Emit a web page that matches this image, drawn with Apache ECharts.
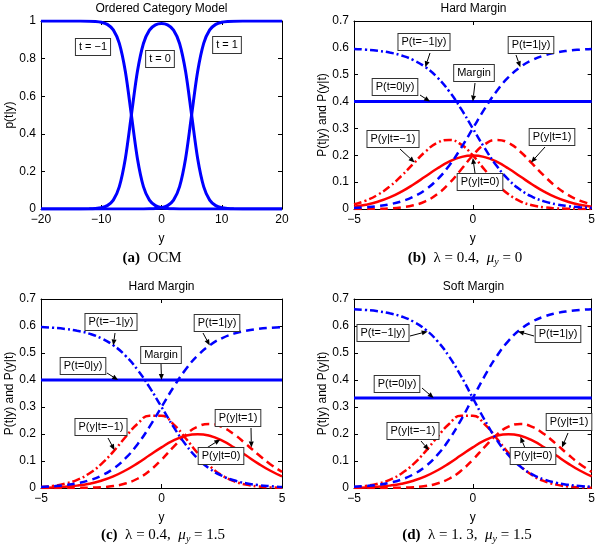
<!DOCTYPE html>
<html><head><meta charset="utf-8">
<script src="https://cdn.jsdelivr.net/npm/echarts@6/dist/echarts.min.js"></script>
<style>html,body{margin:0;padding:0;background:#fff}#c{width:598px;height:545px}</style>
</head><body><div id="c"></div>
<script>
// ---------- DATA ----------
// Panel (a): Ordered Category Model
const ocmY = [-20,-15,-12,-11,-10,-9,-8,-7,-6,-5,-4,-3,-2,-1,0,1,2,3,4,5,6,7,8,9,10,11,12,15,20];
const ocmTminus1 = [1,1,0.999,0.9975,0.9933,0.982,0.9526,0.8808,0.7311,0.5,0.2689,0.1192,0.0474,0.018,0.0067,0.0025,0.0009,0.0003,0.0001,0,0,0,0,0,0,0,0,0,0];
const ocmT0 = [0,0,0.001,0.0025,0.0067,0.018,0.0474,0.1192,0.2689,0.5,0.731,0.8805,0.9517,0.9795,0.9866,0.9795,0.9517,0.8805,0.731,0.5,0.2689,0.1192,0.0474,0.018,0.0067,0.0025,0.001,0,0];
const ocmT1 = [0,0,0,0,0,0,0,0,0,0,0.0001,0.0003,0.0009,0.0025,0.0067,0.018,0.0474,0.1192,0.2689,0.5,0.7311,0.8808,0.9526,0.982,0.9933,0.9975,0.999,1,1];

// Panels (b)-(d): common y grid
const yGrid = [-5,-4.5,-4,-3.5,-3,-2.5,-2,-1.5,-1,-0.5,0,0.5,1,1.5,2,2.5,3,3.5,4,4.5,5];
const yEnds = [-5,5];

// Panel (b): Hard margin, lambda=0.4, mu_y=0
const bTminus1 = [0.596,0.5934,0.5892,0.5824,0.5716,0.5545,0.5285,0.4906,0.4387,0.3735,0.3,0.2265,0.1613,0.1094,0.0715,0.0455,0.0285,0.0176,0.0108,0.0066,0.004];
const bT1 = [0.004,0.0066,0.0108,0.0176,0.0285,0.0455,0.0715,0.1094,0.1613,0.2265,0.3,0.3735,0.4387,0.4906,0.5285,0.5545,0.5716,0.5824,0.5892,0.5934,0.596];
const bT0 = [0.4,0.4];
const bYt0 = [0.0088,0.0159,0.027,0.0431,0.0648,0.0913,0.121,0.1506,0.176,0.1933,0.1995,0.1933,0.176,0.1506,0.121,0.0913,0.0648,0.0431,0.027,0.0159,0.0088];
const bYtminus1 = [0.0174,0.0314,0.053,0.0837,0.1235,0.1687,0.2132,0.2463,0.2573,0.2407,0.1995,0.1459,0.0947,0.0549,0.0288,0.0139,0.0062,0.0025,0.001,0.0004,0.0001];
const bYt1 = [0.0001,0.0004,0.001,0.0025,0.0062,0.0139,0.0288,0.0549,0.0947,0.1459,0.1995,0.2407,0.2573,0.2463,0.2132,0.1687,0.1235,0.0837,0.053,0.0314,0.0174];

// Panel (c): Hard margin, lambda=0.4, mu_y=1.5
const cTminus1 = [0.596,0.5934,0.5892,0.5824,0.5716,0.5545,0.5285,0.4906,0.4387,0.3735,0.3,0.2265,0.1613,0.1094,0.0715,0.0455,0.0285,0.0176,0.0108,0.0066,0.004];
const cT1 = [0.004,0.0066,0.0108,0.0176,0.0285,0.0455,0.0715,0.1094,0.1613,0.2265,0.3,0.3735,0.4387,0.4906,0.5285,0.5545,0.5716,0.5824,0.5892,0.5934,0.596];
const cT0 = [0.4,0.4];
const cYt0 = [0.001,0.0022,0.0046,0.0088,0.0159,0.027,0.0431,0.0648,0.0913,0.121,0.1506,0.176,0.1933,0.1995,0.1933,0.176,0.1506,0.121,0.0913,0.0648,0.0431];
const cYtminus1 = [0.0036,0.0078,0.0159,0.0302,0.0538,0.0886,0.1348,0.1881,0.237,0.2674,0.2673,0.2359,0.1845,0.1292,0.0818,0.0474,0.0254,0.0126,0.0058,0.0025,0.001];
const cYt1 = [0,0,0.0001,0.0004,0.0011,0.0029,0.0072,0.0165,0.0342,0.0636,0.1048,0.1525,0.1967,0.2271,0.237,0.2264,0.1997,0.1635,0.1248,0.0892,0.0596];

// Panel (d): Soft margin, lambda=1.3, mu_y=1.5
const dTminus1 = [0.6622,0.6593,0.6547,0.6471,0.6351,0.6161,0.5872,0.5451,0.4874,0.415,0.3333,0.2517,0.1793,0.1216,0.0795,0.0506,0.0316,0.0195,0.012,0.0073,0.0045];
const dT1 = [0.0045,0.0073,0.012,0.0195,0.0316,0.0506,0.0795,0.1216,0.1793,0.2517,0.3333,0.415,0.4874,0.5451,0.5872,0.6161,0.6351,0.6471,0.6547,0.6593,0.6622];
const dT0 = [0.333,0.333];
const dYt0 = [0.001,0.0022,0.0046,0.0088,0.0159,0.027,0.0431,0.0648,0.0913,0.121,0.1506,0.176,0.1933,0.1995,0.1933,0.176,0.1506,0.121,0.0913,0.0648,0.0431];
const dYtminus1 = [0.0036,0.0078,0.0159,0.0302,0.0538,0.0886,0.1348,0.1881,0.237,0.2674,0.2673,0.2359,0.1845,0.1292,0.0818,0.0474,0.0254,0.0126,0.0058,0.0025,0.001];
const dYt1 = [0,0,0.0001,0.0004,0.0011,0.0029,0.0072,0.0165,0.0342,0.0636,0.1048,0.1525,0.1967,0.2271,0.237,0.2264,0.1997,0.1635,0.1248,0.0892,0.0596];

// Text
const panelTitles = ['Ordered Category Model','Hard Margin','Hard Margin','Soft Margin'];
const yNames = ['p(t|y)','P(t|y) and P(y|t)','P(t|y) and P(y|t)','P(t|y) and P(y|t)'];
const captions = [
  '{b|(a)}{r|  OCM}',
  '{b|(b)}{r|  λ = 0.4,  }{i|μ}{s|y}{r| = 0}',
  '{b|(c)}{r|  λ = 0.4,  }{i|μ}{s|y}{r| = 1.5}',
  '{b|(d)}{r|  λ = 1. 3,  }{i|μ}{s|y}{r| = 1.5}'
];

// ---------- LAYOUT ----------
const SANS = "'Liberation Sans', Arial, Helvetica, sans-serif";
const SERIF = "'Liberation Serif', 'Times New Roman', serif";
const BLUE = '#0000ff', RED = '#ff0000';
const DASH = [8,5], DASHDOT = [8,3,2,3];
const grids = [
  {left:41, top:21, width:241, height:188},
  {left:354, top:21, width:239, height:188},
  {left:41, top:299, width:241, height:189},
  {left:354, top:299, width:239, height:189}
];
const xRange = [[-20,20,10],[-5,5,5],[-5,5,5],[-5,5,5]];
const yRange = [[0,1,0.2],[0,0.7,0.1],[0,0.7,0.1],[0,0.7,0.1]];
const yNameGap = [21,24,24,24];
const captionPos = [[152,258],[465,258],[163,535],[467,535]];

const fmt = v => { const s = String(Math.round(v*1000)/1000); return v < 0 ? '\u2212' + s.slice(1) : s; };
const xAxes = [], yAxes = [];
for (let i = 0; i < 4; i++) {
  xAxes.push({type:'value', gridIndex:i, min:xRange[i][0], max:xRange[i][1], interval:xRange[i][2], position:'bottom',
    name:'y', nameLocation:'middle', nameGap:24, nameTextStyle:{fontFamily:SANS, fontSize:12, color:'#000'},
    axisLine:{show:true, onZero:false, lineStyle:{color:'#000', width:1}}, axisTick:{inside:true, length:4, lineStyle:{color:'#000'}},
    axisLabel:{margin:5, fontFamily:SANS, fontSize:12, color:'#000', formatter:fmt}, splitLine:{show:false}});
  yAxes.push({type:'value', gridIndex:i, min:yRange[i][0], max:yRange[i][1], interval:yRange[i][2], position:'left',
    name:yNames[i], nameLocation:'middle', nameGap:yNameGap[i], nameRotate:90, nameTextStyle:{fontFamily:SANS, fontSize:12, color:'#000'},
    axisLine:{show:true, onZero:false, lineStyle:{color:'#000', width:1}}, axisTick:{inside:true, length:4, lineStyle:{color:'#000'}},
    axisLabel:{margin:5, fontFamily:SANS, fontSize:12, color:'#000', formatter:fmt}, splitLine:{show:false}});
}
for (let i = 0; i < 4; i++) {
  xAxes.push({type:'value', gridIndex:i, min:xRange[i][0], max:xRange[i][1], interval:xRange[i][2], position:'top',
    axisLine:{show:true, onZero:false, lineStyle:{color:'#000', width:1}}, axisTick:{inside:true, length:4, lineStyle:{color:'#000'}},
    axisLabel:{show:false}, splitLine:{show:false}});
  yAxes.push({type:'value', gridIndex:i, min:yRange[i][0], max:yRange[i][1], interval:yRange[i][2], position:'right',
    axisLine:{show:true, onZero:false, lineStyle:{color:'#000', width:1}}, axisTick:{inside:true, length:4, lineStyle:{color:'#000'}},
    axisLabel:{show:false}, splitLine:{show:false}});
}

const zip = (xs, ys) => xs.map((x, k) => [x, ys[k]]);
function line(i, xs, ys, color, type, width, smooth) {
  return {type:'line', xAxisIndex:i, yAxisIndex:i, data:zip(xs, ys), symbol:'none', smooth:smooth === undefined ? true : smooth,
    lineStyle:{color:color, width:width || 2.5, type:type || 'solid', cap:'butt'}, silent:true, z:2};
}
const series = [
  line(0, ocmY, ocmTminus1, BLUE, 'solid', 3, 0.3),
  line(0, ocmY, ocmT0, BLUE, 'solid', 3, 0.3),
  line(0, ocmY, ocmT1, BLUE, 'solid', 3, 0.3),

  line(1, yGrid, bYt0, RED, 'solid', 2.5),
  line(1, yGrid, bYtminus1, RED, DASHDOT, 2.5),
  line(1, yGrid, bYt1, RED, DASH, 2.5),
  line(1, yGrid, bTminus1, BLUE, DASHDOT, 2.5),
  line(1, yGrid, bT1, BLUE, DASH, 2.5),
  line(1, yEnds, bT0, BLUE, 'solid', 3, false),

  line(2, yGrid, cYt0, RED, 'solid', 2.5),
  line(2, yGrid, cYtminus1, RED, DASHDOT, 2.5),
  line(2, yGrid, cYt1, RED, DASH, 2.5),
  line(2, yGrid, cTminus1, BLUE, DASHDOT, 2.5),
  line(2, yGrid, cT1, BLUE, DASH, 2.5),
  line(2, yEnds, cT0, BLUE, 'solid', 3, false),

  line(3, yGrid, dYt0, RED, 'solid', 2.5),
  line(3, yGrid, dYtminus1, RED, DASHDOT, 2.5),
  line(3, yGrid, dYt1, RED, DASH, 2.5),
  line(3, yGrid, dTminus1, BLUE, DASHDOT, 2.5),
  line(3, yGrid, dT1, BLUE, DASH, 2.5),
  line(3, yEnds, dT0, BLUE, 'solid', 3, false)
];
const panelSeries = [0, 3, 9, 15];

const titles = panelTitles.map((t, i) => ({text:t, left:grids[i].left + grids[i].width/2, top:grids[i].top - 18, textAlign:'center', padding:0,
  textStyle:{fontFamily:SANS, fontSize:12, fontWeight:'normal', color:'#000'}}));

// annotation boxes: text, box centre (px), arrow tail (px), arrow tip (data)
const notes = [
  {g:0, text:'t = \u22121', box:[93,47]},
  {g:0, text:'t = 0', box:[160,59]},
  {g:0, text:'t = 1', box:[227,45]},

  {g:1, text:'P(t=\u22121|y)', box:[424,42], tail:[430,53], tip:[-2,0.528]},
  {g:1, text:'P(t=1|y)', box:[531,45], tail:[516,55], tip:[2,0.528]},
  {g:1, text:'Margin', box:[474,73], tail:[475,83], tip:[0,0.4]},
  {g:1, text:'P(t=0|y)', box:[395,87], tail:[420,95], tip:[-1.8,0.4]},
  {g:1, text:'P(y|t=\u22121)', box:[393,139], tail:[400,149], tip:[-2.45,0.173]},
  {g:1, text:'P(y|t=1)', box:[552,137], tail:[545,147], tip:[2.45,0.173]},
  {g:1, text:'P(y|t=0)', box:[480,182], tail:[475,173], tip:[0,0.19]},

  {g:2, text:'P(t=\u22121|y)', box:[111,322], tail:[115,333], tip:[-2,0.528]},
  {g:2, text:'P(t=1|y)', box:[217,323], tail:[203,333], tip:[2,0.528]},
  {g:2, text:'Margin', box:[161,355], tail:[161,364], tip:[0,0.4]},
  {g:2, text:'P(t=0|y)', box:[83,366], tail:[107,373], tip:[-1.8,0.4]},
  {g:2, text:'P(y|t=\u22121)', box:[101,427], tail:[108,438], tip:[-1.95,0.14]},
  {g:2, text:'P(y|t=1)', box:[238,418], tail:[251,428], tip:[3.73,0.15]},
  {g:2, text:'P(y|t=0)', box:[221,456], tail:[205,449], tip:[2.44,0.18]},

  {g:3, text:'P(t=\u22121|y)', box:[383,333], tail:[410,336], tip:[-1.9,0.58]},
  {g:3, text:'P(t=1|y)', box:[558,334], tail:[534,336], tip:[1.9,0.58]},
  {g:3, text:'P(t=0|y)', box:[397,384], tail:[422,388], tip:[-1.65,0.333]},
  {g:3, text:'P(y|t=\u22121)', box:[413,431], tail:[421,441], tip:[-1.85,0.14]},
  {g:3, text:'P(y|t=1)', box:[569,422], tail:[568,433], tip:[3.75,0.15]},
  {g:3, text:'P(y|t=0)', box:[533,456], tail:[525,448], tip:[2,0.19]}
];

const chart = echarts.init(document.getElementById('c'), null, {renderer:'canvas'});
chart.setOption({
  animation:false, backgroundColor:'#fff',
  title:titles, grid:grids, xAxis:xAxes, yAxis:yAxes, series:series
});

const gfx = [];
notes.forEach(n => {
  if (n.tip) {
    const p = chart.convertToPixel({seriesIndex:panelSeries[n.g]}, n.tip);
    const dx = p[0] - n.tail[0], dy = p[1] - n.tail[1];
    const L = Math.sqrt(dx*dx + dy*dy) || 1;
    const ux = dx/L, uy = dy/L, hl = 6, hw = 2.5;
    const bx = p[0] - ux*hl, by = p[1] - uy*hl;
    gfx.push({type:'line', shape:{x1:n.tail[0], y1:n.tail[1], x2:bx, y2:by}, style:{stroke:'#000', lineWidth:1}, z:50});
    gfx.push({type:'polygon', shape:{points:[[p[0],p[1]],[bx - uy*hw, by + ux*hw],[bx + uy*hw, by - ux*hw]]}, style:{fill:'#000'}, z:50});
  }
  gfx.push({type:'text', x:n.box[0], y:n.box[1], z:60, style:{text:n.text, fontFamily:SANS, fontSize:11, fill:'#000',
    align:'center', verticalAlign:'middle', backgroundColor:'#fff', borderColor:'#333', borderWidth:1, padding:[3,3,2,3]}});
});
captions.forEach((c, i) => {
  gfx.push({type:'text', x:captionPos[i][0], y:captionPos[i][1], z:60, style:{text:c, align:'center', verticalAlign:'middle',
    rich:{
      b:{fontFamily:SERIF, fontSize:15, fontWeight:'bold', fill:'#000', lineHeight:18, verticalAlign:'middle'},
      r:{fontFamily:SERIF, fontSize:15, fill:'#000', lineHeight:18, verticalAlign:'middle'},
      i:{fontFamily:SERIF, fontSize:15, fontStyle:'italic', fill:'#000', lineHeight:18, verticalAlign:'middle'},
      s:{fontFamily:SERIF, fontSize:10, fontStyle:'italic', fill:'#000', lineHeight:10, verticalAlign:'bottom'}
    }}});
});
chart.setOption({graphic:gfx});
</script></body></html>
